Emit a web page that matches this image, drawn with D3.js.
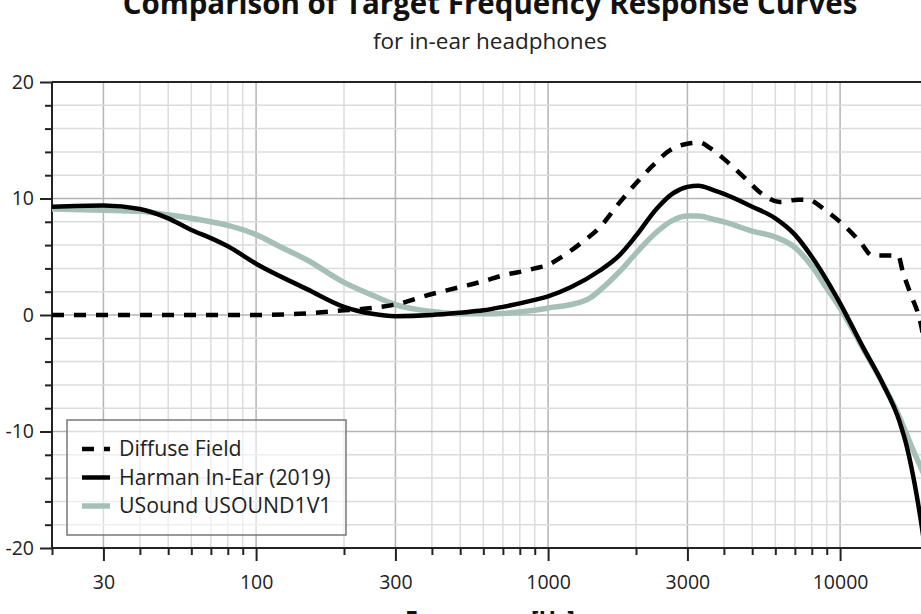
<!DOCTYPE html>
<html>
<head>
<meta charset="utf-8">
<script src="https://cdn.jsdelivr.net/npm/d3@7"></script>
<style>
  html, body { margin: 0; padding: 0; background: #fff; overflow: hidden; }
  svg { display: block; font-family: "Open Sans", "Noto Sans", sans-serif; }
</style>
</head>
<body>
<svg id="chart" width="921" height="614"></svg>
<script>
// ---- Data ----
const titleText = "Comparison of Target Frequency Response Curves";
const subtitleText = "for in-ear headphones";
const xAxisLabel = "Frequency [Hz]";

const seriesNames = ["Diffuse Field", "Harman In-Ear (2019)", "USound USOUND1V1"];

const diffuseFreq = [20, 50, 100, 140, 200, 250, 300, 400, 500, 600, 700, 800, 900, 1000, 1100, 1300, 1500, 1750, 2000, 2300, 2600, 3000, 3300, 3600, 4000, 4750, 5400, 6200, 7200, 7700, 9000, 10300, 11700, 12900, 14400, 15800, 16400, 17500, 18700, 20000];
const diffuseDb   = [0, 0, 0, 0.1, 0.4, 0.6, 0.9, 1.8, 2.4, 2.9, 3.4, 3.7, 4.0, 4.3, 4.9, 6.2, 7.5, 9.6, 11.3, 12.9, 14.1, 14.7, 14.8, 14.3, 13.4, 11.7, 10.4, 9.7, 9.9, 9.9, 8.9, 7.7, 6.3, 5.1, 5.1, 5.1, 3.7, 1.7, -0.3, -4.0];

const harmanFreq = [20, 30, 40, 50, 60, 70, 80, 100, 150, 200, 250, 300, 400, 500, 600, 700, 900, 1000, 1200, 1500, 1750, 2000, 2350, 2660, 3000, 3270, 3700, 4000, 5000, 6000, 7000, 8000, 9000, 10000, 12000, 14000, 16000, 17000, 18000, 19000, 20000];
const harmanDb   = [9.3, 9.4, 9.1, 8.3, 7.3, 6.6, 5.9, 4.4, 2.2, 0.7, 0.1, -0.1, 0.0, 0.2, 0.4, 0.7, 1.3, 1.6, 2.4, 3.8, 5.1, 6.8, 9.1, 10.4, 11.0, 11.1, 10.7, 10.4, 9.3, 8.3, 6.9, 5.0, 3.0, 1.0, -2.8, -5.9, -9.2, -11.5, -14.5, -18.0, -22.0];

const usoundFreq = [20, 30, 40, 50, 60, 70, 80, 100, 120, 150, 200, 250, 300, 400, 500, 600, 900, 1000, 1200, 1380, 1580, 1800, 2000, 2350, 2660, 3000, 3270, 3700, 4000, 5000, 6000, 7000, 8000, 9000, 10000, 12000, 14000, 16000, 17000, 18000, 19000, 20000];
const usoundDb   = [9.1, 9.0, 8.9, 8.6, 8.3, 8.0, 7.7, 6.9, 5.9, 4.7, 2.8, 1.7, 0.9, 0.3, 0.1, 0.1, 0.4, 0.6, 0.9, 1.4, 2.6, 4.0, 5.3, 7.1, 8.1, 8.5, 8.5, 8.2, 8.0, 7.2, 6.7, 5.8, 4.2, 2.3, 0.6, -2.9, -5.9, -8.8, -10.4, -11.9, -13.2, -14.5];

const xTickLabels = [30, 100, 300, 1000, 3000, 10000];
const xMinorTicks = [20, 40, 50, 60, 70, 80, 90, 200, 400, 500, 600, 700, 800, 900, 2000, 4000, 5000, 6000, 7000, 8000, 9000, 20000];
const yTickLabels = [-20, -10, 0, 10, 20];
const yMinorTicks = [-18, -16, -14, -12, -8, -6, -4, -2, 2, 4, 6, 8, 12, 14, 16, 18];

// ---- Layout ----
const svg = d3.select("#chart");
const pLeft = 52, pRight = 928, pTop = 82, pBottom = 548;

const x = d3.scaleLog().domain([20, 20000]).range([pLeft, pRight]);
const y = d3.scaleLinear().domain([-20, 20]).range([pBottom, pTop]);

// Clip
svg.append("defs").append("clipPath").attr("id", "plotClip")
  .append("rect").attr("x", pLeft).attr("y", pTop).attr("width", pRight - pLeft).attr("height", pBottom - pTop);

// Grid
const grid = svg.append("g");
grid.selectAll("line.vmin").data(xMinorTicks).join("line")
  .attr("x1", d => x(d)).attr("x2", d => x(d)).attr("y1", pTop).attr("y2", pBottom)
  .attr("stroke", "#dcdcdc").attr("stroke-width", 1.5);
grid.selectAll("line.vmaj").data(xTickLabels).join("line")
  .attr("x1", d => x(d)).attr("x2", d => x(d)).attr("y1", pTop).attr("y2", pBottom)
  .attr("stroke", "#b4b4b4").attr("stroke-width", 1.5);
grid.selectAll("line.hmin").data(yMinorTicks).join("line")
  .attr("x1", pLeft).attr("x2", pRight).attr("y1", d => y(d)).attr("y2", d => y(d))
  .attr("stroke", "#dcdcdc").attr("stroke-width", 1.5);
grid.selectAll("line.hmaj").data(yTickLabels.filter(d => d > -20 && d < 20)).join("line")
  .attr("x1", pLeft).attr("x2", pRight).attr("y1", d => y(d)).attr("y2", d => y(d))
  .attr("stroke", "#b4b4b4").attr("stroke-width", 1.5);

// Axes
const plainFmt = d => String(d);
const yAxisMajor = d3.axisLeft(y).tickValues(yTickLabels).tickSize(12).tickPadding(6).tickFormat(plainFmt);
const yAxisMinor = d3.axisLeft(y).tickValues(yMinorTicks).tickSize(7).tickFormat("");
const xAxisMajor = d3.axisBottom(x).tickValues(xTickLabels).tickSize(13).tickPadding(14).tickFormat(plainFmt);
const xAxisMinor = d3.axisBottom(x).tickValues(xMinorTicks).tickSize(7).tickFormat("");

function styleAxis(g) {
  g.select(".domain").remove();
  g.selectAll(".tick line").attr("stroke", "#222").attr("stroke-width", 2);
  g.selectAll(".tick text").attr("fill", "#222").style("font-size", "19.5px")
    .style("font-family", "'Open Sans', 'Noto Sans', sans-serif");
}
svg.append("g").attr("transform", `translate(${pLeft},0)`).call(yAxisMinor).call(styleAxis);
svg.append("g").attr("transform", `translate(${pLeft},0)`).call(yAxisMajor).call(styleAxis);
svg.append("g").attr("transform", `translate(0,${pBottom})`).call(xAxisMinor).call(styleAxis);
svg.append("g").attr("transform", `translate(0,${pBottom})`).call(xAxisMajor).call(styleAxis);

// Frame lines
svg.append("line").attr("x1", pLeft).attr("x2", pRight).attr("y1", pTop).attr("y2", pTop).attr("stroke", "#222").attr("stroke-width", 2);
svg.append("line").attr("x1", pLeft).attr("x2", pRight).attr("y1", pBottom).attr("y2", pBottom).attr("stroke", "#222").attr("stroke-width", 2);
svg.append("line").attr("x1", pLeft).attr("x2", pLeft).attr("y1", pTop).attr("y2", pBottom).attr("stroke", "#222").attr("stroke-width", 2);
svg.append("line").attr("x1", pRight).attr("x2", pRight).attr("y1", pTop).attr("y2", pBottom).attr("stroke", "#222").attr("stroke-width", 2);

// Lines
const line = d3.line().x(d => x(d[0])).y(d => y(d[1])).curve(d3.curveMonotoneX);
const zip = (a, b) => a.map((v, i) => [v, b[i]]);

const series = [
  { name: seriesNames[0], data: zip(diffuseFreq, diffuseDb), color: "#000", width: 4.5, dash: "12,10" },
  { name: seriesNames[1], data: zip(harmanFreq, harmanDb), color: "#000", width: 4.5, dash: null },
  { name: seriesNames[2], data: zip(usoundFreq, usoundDb), color: "#a6c0b8", width: 5.5, dash: null }
];

const plot = svg.append("g").attr("clip-path", "url(#plotClip)");
[series[2], series[1], series[0]].forEach(s => {
  plot.append("path").attr("d", line(s.data))
    .attr("fill", "none").attr("stroke", s.color).attr("stroke-width", s.width)
    .attr("stroke-dasharray", s.dash).attr("stroke-linejoin", "round");
});

// Legend
const lg = svg.append("g");
lg.append("rect").attr("x", 67).attr("y", 420).attr("width", 279).attr("height", 115)
  .attr("fill", "#fff").attr("fill-opacity", 0.55).attr("stroke", "#777").attr("stroke-width", 1.5);
series.forEach((s, i) => {
  const cy = 449 + i * 28.5;
  lg.append("line").attr("x1", 82).attr("x2", 110).attr("y1", cy).attr("y2", cy)
    .attr("stroke", s.color).attr("stroke-width", s.width).attr("stroke-dasharray", s.dash);
  lg.append("text").attr("x", 119).attr("y", cy).attr("dy", "0.35em")
    .attr("fill", "#222").style("font-size", "21.3px").text(s.name);
});

// Titles
svg.append("text").attr("x", 490).attr("y", 14).attr("text-anchor", "middle")
  .style("font-size", "29.5px").style("font-weight", "bold").attr("fill", "#111").text(titleText);
svg.append("text").attr("x", 490).attr("y", 49).attr("text-anchor", "middle")
  .style("font-size", "22.5px").attr("fill", "#222").text(subtitleText);
svg.append("text").attr("x", 490).attr("y", 628).attr("text-anchor", "middle")
  .style("font-size", "23px").style("font-weight", "bold").attr("fill", "#111").text(xAxisLabel);
</script>
</body>
</html>
